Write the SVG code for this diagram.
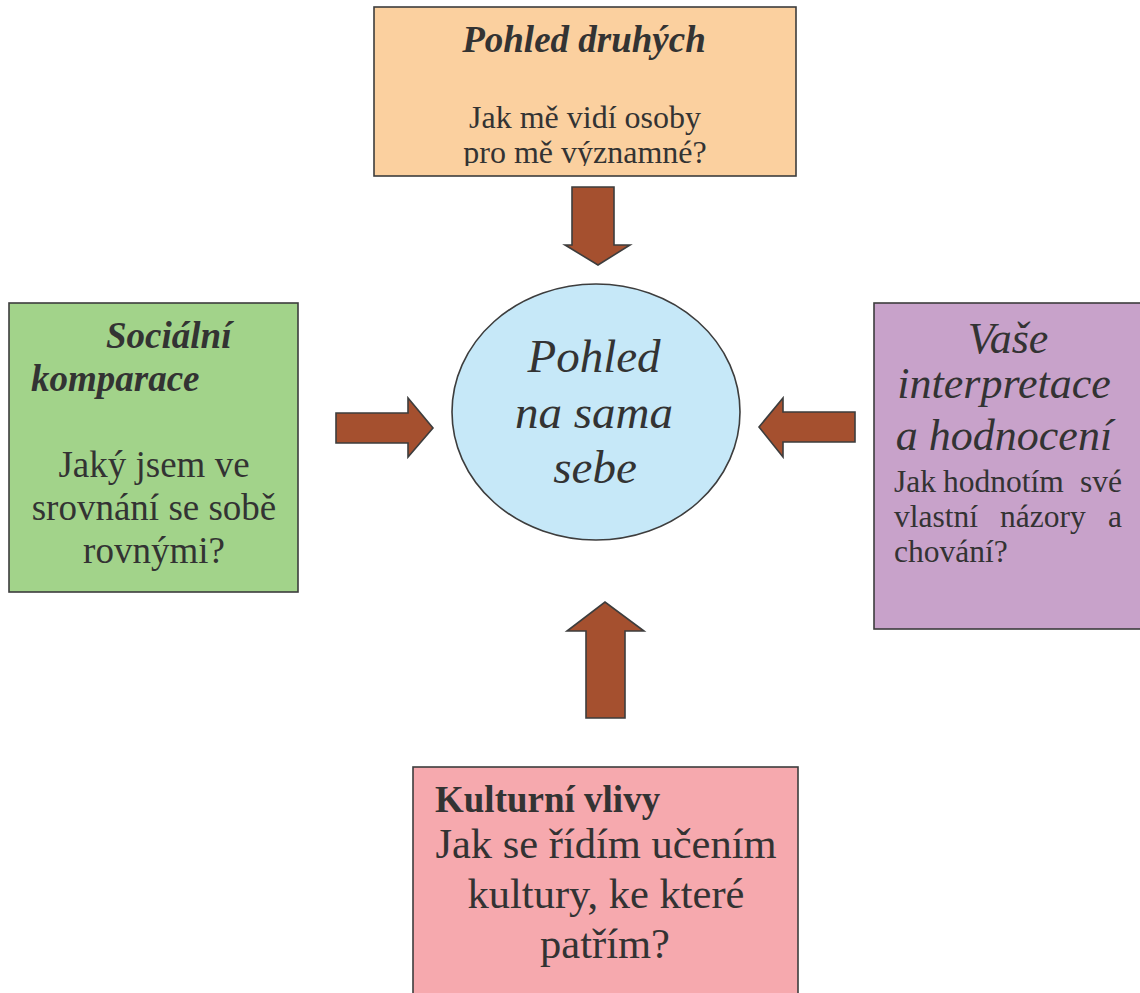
<svg xmlns="http://www.w3.org/2000/svg" width="1140" height="993" viewBox="0 0 1140 993">
  <style>
    .box { stroke: #3d3d3d; stroke-width: 1.6; }
    .arrow { fill: #A5502F; stroke: #3d3d3d; stroke-width: 1.6; stroke-linejoin: miter; }
    text { font-family: "Liberation Serif", "Times New Roman", serif; fill: #333333; }
    .bi { font-weight: bold; font-style: italic; }
    .it { font-style: italic; }
    .b { font-weight: bold; }
    .mid { text-anchor: middle; }
    .end { text-anchor: end; }
  </style>
  <defs>
    <clipPath id="topClip">
      <rect x="374" y="7" width="423" height="159"/>
    </clipPath>
  </defs>

  <rect width="1140" height="993" fill="#ffffff"/>

  <!-- connectors: block arrows toward the centre -->
  <g id="connectors">
    <polygon class="arrow" points="572,187 614,187 614,245 630,245 598,265 565,245 572,245"/>
    <polygon class="arrow" points="336,413 408,413 408,398 433,428 408,457 408,443 336,443"/>
    <polygon class="arrow" points="855,412 783,412 783,398 759,427 783,457 783,442 855,442"/>
    <polygon class="arrow" points="586,718 625,718 625,631 644,631 605,602 567,631 586,631"/>
  </g>

  <!-- top: how others see me -->
  <g id="pohled-druhych">
    <rect class="box" x="374" y="7" width="422" height="169" fill="#FBD09F"/>
    <g clip-path="url(#topClip)">
      <text class="bi mid" x="584" y="52" font-size="37">Pohled druhých</text>
      <text class="mid" x="585" y="128" font-size="32">Jak mě vidí osoby</text>
      <text class="mid" x="585" y="163" font-size="32">pro mě významné?</text>
    </g>
  </g>

  <!-- left: social comparison -->
  <g id="socialni-komparace">
    <rect class="box" x="9" y="303" width="289" height="289" fill="#A2D38A"/>
    <text class="bi" x="106" y="348" font-size="37">Sociální</text>
    <text class="bi" x="31" y="391" font-size="37">komparace</text>
    <text class="mid" x="154" y="477" font-size="37">Jaký jsem ve</text>
    <text class="mid" x="154" y="520" font-size="37">srovnání se sobě</text>
    <text class="mid" x="154" y="563" font-size="37">rovnými?</text>
  </g>

  <!-- centre: self-view -->
  <g id="pohled-na-sebe">
    <ellipse class="box" cx="596" cy="412" rx="144" ry="128" fill="#C6E8F8"/>
    <text class="it mid" x="594" y="372" font-size="47">Pohled</text>
    <text class="it mid" x="594" y="428" font-size="47">na sama</text>
    <text class="it mid" x="595" y="483" font-size="47">sebe</text>
  </g>

  <!-- right: own interpretation (body text justified word by word) -->
  <g id="interpretace">
    <rect class="box" x="874" y="303" width="270" height="326" fill="#C8A2CA"/>
    <text class="it mid" x="1008" y="353" font-size="44">Vaše</text>
    <text class="it mid" x="1004" y="398" font-size="44">interpretace</text>
    <text class="it mid" x="1004" y="450" font-size="44">a hodnocení</text>
    <text x="894" y="492" font-size="31.5">Jak</text>
    <text x="943" y="492" font-size="31.5">hodnotím</text>
    <text class="end" x="1122" y="492" font-size="31.5">své</text>
    <text x="894" y="527" font-size="31.5">vlastní</text>
    <text x="1000" y="527" font-size="31.5">názory</text>
    <text class="end" x="1122" y="527" font-size="31.5">a</text>
    <text x="894" y="562" font-size="31.5">chování?</text>
  </g>

  <!-- bottom: cultural influences -->
  <g id="kulturni-vlivy">
    <rect class="box" x="413" y="767" width="385" height="240" fill="#F6A9AE"/>
    <text class="b" x="435" y="812" font-size="37">Kulturní vlivy</text>
    <text class="mid" x="606" y="858" font-size="42.5">Jak se řídím učením</text>
    <text class="mid" x="606" y="908" font-size="42.5">kultury, ke které</text>
    <text class="mid" x="605" y="958" font-size="42.5">patřím?</text>
  </g>
</svg>
